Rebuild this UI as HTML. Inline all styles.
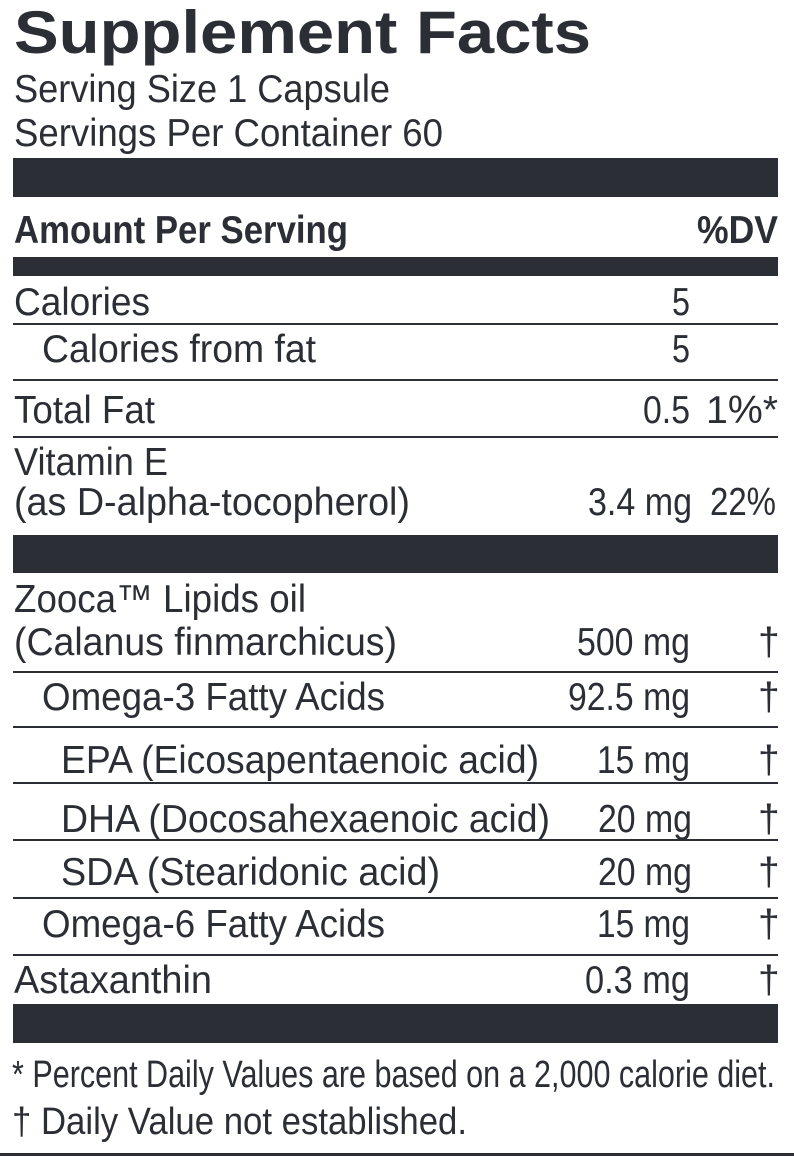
<!DOCTYPE html>
<html><head><meta charset="utf-8"><style>
html,body{margin:0;padding:0;background:#fff;width:794px;height:1156px;overflow:hidden}
svg text{font-family:"Liberation Sans",sans-serif;fill:#2b2e35}
.b{font-weight:bold}
</style></head><body>
<svg width="794" height="1156" viewBox="0 0 794 1156" xmlns="http://www.w3.org/2000/svg">
<g fill="#2b2e35">
<rect x="13" y="158" width="765" height="39"/>
<rect x="13" y="257" width="765" height="19"/>
<rect x="13" y="323" width="765" height="2"/>
<rect x="13" y="379" width="765" height="2"/>
<rect x="13" y="436" width="765" height="2"/>
<rect x="13" y="535" width="765" height="38"/>
<rect x="13" y="671" width="765" height="2"/>
<rect x="13" y="726" width="765" height="2"/>
<rect x="13" y="782" width="765" height="2"/>
<rect x="13" y="839" width="765" height="2"/>
<rect x="13" y="897" width="765" height="2"/>
<rect x="13" y="954" width="765" height="2"/>
<rect x="13" y="1004" width="765" height="39"/>
<rect x="0" y="1153" width="794" height="3"/>
</g>
<g font-size="39">
<text class="b" x="14" y="53" font-size="60" textLength="577" lengthAdjust="spacingAndGlyphs">Supplement Facts</text>
<text x="14" y="102" textLength="376" lengthAdjust="spacingAndGlyphs">Serving Size 1 Capsule</text>
<text x="14" y="146" textLength="429" lengthAdjust="spacingAndGlyphs">Servings Per Container 60</text>
<text class="b" x="14" y="243" textLength="334" lengthAdjust="spacingAndGlyphs">Amount Per Serving</text>
<text class="b" x="697" y="243" textLength="81" lengthAdjust="spacingAndGlyphs">%DV</text>
<text x="14" y="315" textLength="136" lengthAdjust="spacingAndGlyphs">Calories</text>
<text x="672" y="315" textLength="18" lengthAdjust="spacingAndGlyphs">5</text>
<text x="42" y="362" textLength="274" lengthAdjust="spacingAndGlyphs">Calories from fat</text>
<text x="672" y="362" textLength="18" lengthAdjust="spacingAndGlyphs">5</text>
<text x="14" y="423" textLength="141" lengthAdjust="spacingAndGlyphs">Total Fat</text>
<text x="643" y="423" textLength="47" lengthAdjust="spacingAndGlyphs">0.5</text>
<text x="706" y="423" textLength="72" lengthAdjust="spacingAndGlyphs">1%*</text>
<text x="14" y="475" textLength="154" lengthAdjust="spacingAndGlyphs">Vitamin E</text>
<text x="14" y="515" textLength="396" lengthAdjust="spacingAndGlyphs">(as D-alpha-tocopherol)</text>
<text x="588" y="515" textLength="104" lengthAdjust="spacingAndGlyphs">3.4 mg</text>
<text x="710" y="515" textLength="66" lengthAdjust="spacingAndGlyphs">22%</text>
<text x="14" y="612" textLength="292" lengthAdjust="spacingAndGlyphs">Zooca™ Lipids oil</text>
<text x="14" y="655" textLength="383" lengthAdjust="spacingAndGlyphs">(Calanus finmarchicus)</text>
<text x="577" y="655" textLength="113" lengthAdjust="spacingAndGlyphs">500 mg</text>
<text x="758" y="655">†</text>
<text x="42" y="710" textLength="343" lengthAdjust="spacingAndGlyphs">Omega-3 Fatty Acids</text>
<text x="568" y="710" textLength="122" lengthAdjust="spacingAndGlyphs">92.5 mg</text>
<text x="758" y="710">†</text>
<text x="61" y="773" textLength="478" lengthAdjust="spacingAndGlyphs">EPA (Eicosapentaenoic acid)</text>
<text x="597" y="773" textLength="93" lengthAdjust="spacingAndGlyphs">15 mg</text>
<text x="758" y="773">†</text>
<text x="61" y="832" textLength="489" lengthAdjust="spacingAndGlyphs">DHA (Docosahexaenoic acid)</text>
<text x="598" y="832" textLength="94" lengthAdjust="spacingAndGlyphs">20 mg</text>
<text x="758" y="832">†</text>
<text x="61" y="885" textLength="379" lengthAdjust="spacingAndGlyphs">SDA (Stearidonic acid)</text>
<text x="598" y="885" textLength="94" lengthAdjust="spacingAndGlyphs">20 mg</text>
<text x="758" y="885">†</text>
<text x="42" y="937" textLength="343" lengthAdjust="spacingAndGlyphs">Omega-6 Fatty Acids</text>
<text x="597" y="937" textLength="93" lengthAdjust="spacingAndGlyphs">15 mg</text>
<text x="758" y="937">†</text>
<text x="14" y="993" textLength="198" lengthAdjust="spacingAndGlyphs">Astaxanthin</text>
<text x="585" y="993" textLength="105" lengthAdjust="spacingAndGlyphs">0.3 mg</text>
<text x="758" y="993">†</text>
<text x="12" y="1087" font-size="38" textLength="763" lengthAdjust="spacingAndGlyphs">* Percent Daily Values are based on a 2,000 calorie diet.</text>
<text x="12" y="1134" font-size="38" textLength="455" lengthAdjust="spacingAndGlyphs">† Daily Value not established.</text>
</g>
</svg>
</body></html>
